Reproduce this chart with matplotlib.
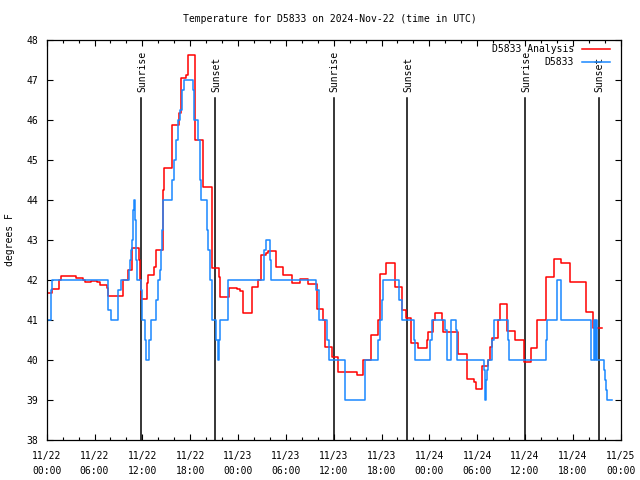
import numpy as np
import matplotlib.pyplot as plt
from matplotlib.ticker import MultipleLocator

# hours since 2024-11-22 00:00 UTC, temperature in degrees F (step data)
analysis_hours = [0.00, 0.63, 1.54, 1.76, 2.51, 3.64, 4.59, 4.77, 5.60, 6.35,
                  6.69, 7.60, 7.73, 9.54, 9.61, 10.20, 10.70, 11.58, 11.71, 11.79,
                  12.55, 12.75, 13.50, 13.68, 14.55, 14.76, 15.68, 15.76, 16.64, 16.81,
                  17.48, 17.77, 18.61, 19.65, 20.70, 21.66, 21.74, 22.91, 23.84, 24.25,
                  24.67, 25.72, 26.55, 26.85, 27.52, 27.73, 28.77, 29.69, 30.74, 31.78,
                  32.82, 33.88, 34.63, 34.92, 35.76, 36.59, 38.90, 39.72, 40.65, 41.53,
                  41.82, 42.57, 43.70, 44.54, 45.08, 45.67, 46.62, 47.68, 47.84, 48.51,
                  48.72, 49.56, 49.69, 51.64, 52.70, 53.65, 53.86, 54.65, 55.41, 55.62,
                  55.83, 56.66, 56.88, 57.72, 58.76, 59.85, 60.73, 61.56, 62.65, 63.66,
                  64.49, 65.66, 67.66, 68.58, 69.64]
analysis_temp = [41.67, 41.77, 42.00, 42.11, 42.09, 42.04, 41.99, 41.94, 41.98, 41.94,
                 41.87, 41.79, 41.59, 41.75, 42.00, 42.25, 42.79, 42.50, 42.00, 41.52,
                 41.92, 42.13, 42.33, 42.75, 44.25, 44.79, 45.04, 45.88, 46.17, 47.04,
                 47.13, 47.62, 45.50, 44.33, 42.29, 42.08, 41.58, 41.81, 41.78, 41.73,
                 41.17, 41.83, 42.00, 42.63, 42.67, 42.73, 42.33, 42.13, 41.92, 42.02,
                 41.90, 41.27, 41.00, 40.33, 40.08, 39.71, 39.62, 40.00, 40.63, 41.00,
                 42.14, 42.42, 41.83, 41.25, 41.05, 40.42, 40.30, 40.50, 40.70, 41.00,
                 41.17, 41.00, 40.71, 40.15, 39.52, 39.45, 39.27, 39.85, 40.00, 40.33,
                 40.54, 41.00, 41.39, 40.73, 40.50, 39.96, 40.30, 41.00, 42.07, 42.53,
                 42.42, 41.94, 41.21, 40.79, 40.79]

obs_hours = [0.00, 0.50, 0.66, 7.73, 8.03, 8.98, 9.28, 10.33, 10.45, 10.54,
             10.74, 10.83, 10.87, 10.95, 11.08, 11.20, 11.29, 11.79, 11.96, 12.33,
             12.46, 12.80, 13.05, 13.68, 14.00, 14.22, 14.34, 14.43, 14.55, 14.63,
             15.76, 16.01, 16.22, 16.51, 16.73, 17.01, 17.26, 18.32, 18.52, 19.02,
             19.23, 19.36, 20.08, 20.28, 20.49, 20.70, 21.24, 21.46, 21.62, 21.74,
             22.75, 27.30, 27.55, 28.02, 28.18, 33.79, 34.13, 35.13, 35.38, 37.47,
             39.90, 41.53, 41.82, 42.07, 42.23, 44.24, 44.54, 46.09, 46.25, 48.09,
             48.30, 50.01, 50.26, 50.76, 51.35, 51.51, 54.86, 55.02, 55.10, 55.27,
             55.40, 55.83, 56.08, 57.90, 58.03, 62.64, 62.80, 64.05, 64.51, 68.27,
             68.61, 68.77, 68.90, 69.06, 69.90, 70.06, 70.21, 70.33, 70.88]
obs_temp = [41.00, 41.75, 42.00, 41.25, 41.00, 41.75, 42.00, 42.25, 42.50, 42.75,
            43.00, 43.25, 43.75, 44.00, 43.50, 42.50, 42.00, 41.75, 41.00, 40.50,
            40.00, 40.50, 41.00, 41.50, 42.00, 42.25, 42.75, 43.25, 43.75, 44.00,
            44.50, 45.00, 45.50, 46.00, 46.25, 46.75, 47.00, 46.75, 46.00, 45.50,
            44.50, 44.00, 43.25, 42.75, 42.00, 41.00, 40.50, 40.00, 40.50, 41.00,
            42.00, 42.75, 43.00, 42.50, 42.00, 41.75, 41.00, 40.50, 40.00, 39.00,
            40.00, 40.50, 41.00, 41.50, 42.00, 41.50, 41.00, 40.50, 40.00, 40.50,
            41.00, 40.75, 40.00, 41.00, 40.75, 40.00, 39.75, 39.00, 39.50, 39.75,
            40.00, 40.50, 41.00, 40.50, 40.00, 40.50, 41.00, 42.00, 41.00, 40.00,
            41.00, 40.00, 41.00, 40.00, 39.75, 39.50, 39.25, 39.00, 39.00]

sun_hours = [11.87, 21.15, 36.01, 45.24, 60.05, 69.25]
sun_labels = ["Sunrise", "Sunset", "Sunrise", "Sunset", "Sunrise", "Sunset"]

xtick_hours = list(range(0, 73, 6))
xtick_labels = ["11/22\n00:00", "11/22\n06:00", "11/22\n12:00", "11/22\n18:00",
                "11/23\n00:00", "11/23\n06:00", "11/23\n12:00", "11/23\n18:00",
                "11/24\n00:00", "11/24\n06:00", "11/24\n12:00", "11/24\n18:00",
                "11/25\n00:00"]

plt.rcParams['font.family'] = ['DejaVu Sans Mono']
plt.rcParams['font.size'] = 7

fig = plt.figure(figsize=(6.4, 4.8), dpi=100)
ax = fig.add_axes([46.7 / 640, 40 / 480, 574 / 640, 400 / 480])

# sunrise / sunset markers
for h, lab in zip(sun_hours, sun_labels):
    ax.plot([h, h], [38, 46.55], color='black', lw=1.1, zorder=1.5)
    ax.text(h + 0.1, 46.71, lab, rotation=90, ha='center', va='bottom')

ax.plot(analysis_hours, analysis_temp, drawstyle='steps-post', color='#ff0000',
        lw=1.1, label='D5833 Analysis')
ax.plot(obs_hours, obs_temp, drawstyle='steps-post', color='#1a88ff',
        lw=1.1, label='D5833')

ax.set_xlim(0, 72)
ax.set_ylim(38, 48)
ax.set_xticks(xtick_hours)
ax.set_xticklabels(xtick_labels, linespacing=1.6)
ax.xaxis.set_minor_locator(MultipleLocator(2))
ax.set_yticks(range(38, 49))
ax.tick_params(direction='in', top=True, right=True, length=4.5, width=0.8)
ax.tick_params(axis='x', pad=8)
ax.tick_params(axis='y', pad=6)
ax.tick_params(which='minor', direction='in', top=True, length=2.3, width=0.8)
for s in ax.spines.values():
    s.set_linewidth(0.9)

ax.legend(loc='upper right', bbox_to_anchor=(1 - 10.7 / 574, 1 - 4 / 400),
          markerfirst=False, frameon=False, borderpad=0, borderaxespad=0,
          handlelength=2.9, handletextpad=0.8, labelspacing=0.35)

fig.text(330 / 640, 1 - 19 / 480, "Temperature for D5833 on 2024-Nov-22 (time in UTC)",
         ha='center', va='center')
fig.text(10 / 640, 240 / 480, "degrees F", rotation=90, ha='center', va='center')

fig.savefig('out.png', dpi=100)
